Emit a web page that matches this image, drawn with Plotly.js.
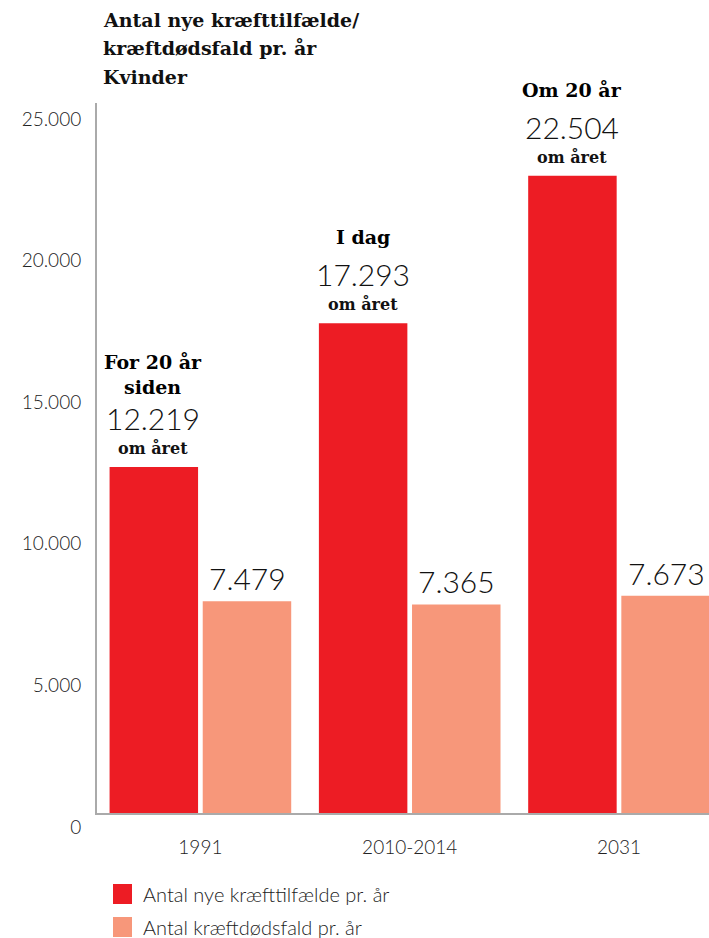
<!DOCTYPE html>
<html><head><meta charset="utf-8">
<script src="https://cdn.plot.ly/plotly-3.0.1.min.js"></script>
<style>html,body{margin:0;padding:0;background:#fff}#chart{width:709px;height:938px}</style>
</head><body><div id="chart"></div>
<script>
const categories = ["1991", "2010-2014", "2031"];
const newCases = [12219, 17293, 22504];
const deaths = [7479, 7365, 7673];
const headlines = ["For 20 år<br>siden", "I dag", "Om 20 år"];
const titleLines = ["Antal nye kræfttilfælde/", "kræftdødsfald pr. år", "Kvinder"];
const seriesNames = ["Antal nye kræfttilfælde pr. år", "Antal kræftdødsfald pr. år"];
const yTicks = [0, 5000, 10000, 15000, 20000, 25000];
const yTickText = ["0", "5.000", "10.000", "15.000", "20.000", "25.000"];
const fmtNum = v => String(v).replace(/\B(?=(\d{3})+(?!\d))/g, ".");

const RED = "#ED1C24", SALMON = "#F7977A";
const COLORS = [RED, SALMON];
const serif = "DejaVu Serif, serif";
const light = "Lato, Open Sans, sans-serif";

// plot area geometry (pixels)
const W = 709, H = 938, L = 97, T = 103, B = 125;
const PW = W - L, PH = H - T - B;
const px2x = px => (px - L) / PW;
const px2y = py => (H - B - py) / PH;

const traces = [
  {type: "bar", x: categories, y: newCases, name: seriesNames[0], marker: {color: RED}, hoverinfo: "none", showlegend: false},
  {type: "bar", x: categories, y: deaths, name: seriesNames[1], marker: {color: SALMON}, hoverinfo: "none", showlegend: false}
];

const ann = [];
categories.forEach((c, i) => {
  ann.push({x: i, y: newCases[i], xref: "x", yref: "y", xshift: -47, yshift: i === 0 ? 92 : 86, yanchor: "middle",
    showarrow: false, text: "<b>" + headlines[i] + "</b>", font: {family: serif, size: 19, color: "#000"}});
  ann.push({x: i, y: newCases[i], xref: "x", yref: "y", xshift: -47, yshift: 49, yanchor: "middle",
    showarrow: false, text: fmtNum(newCases[i]), font: {family: light, size: 30, color: "#111", weight: 300}});
  ann.push({x: i, y: newCases[i], xref: "x", yref: "y", xshift: -47, yshift: 19, yanchor: "middle",
    showarrow: false, text: "<b>om året</b>", font: {family: serif, size: 16, color: "#111"}});
  ann.push({x: i, y: deaths[i], xref: "x", yref: "y", xshift: 47, yshift: 23, yanchor: "middle",
    showarrow: false, text: fmtNum(deaths[i]), font: {family: light, size: 30, color: "#111", weight: 300}});
});

// title lines
const titleY = [20, 48, 77];
titleLines.forEach((t, i) => {
  ann.push({x: px2x(101), y: px2y(titleY[i]), xref: "paper", yref: "paper", xanchor: "left", yanchor: "middle",
    showarrow: false, text: "<b>" + t + "</b>", font: {family: serif, size: 19, color: "#111"}});
});

// legend (drawn manually to match the large swatches)
const shapes = [];
const legY = [894, 927];
seriesNames.forEach((n, i) => {
  shapes.push({type: "rect", xref: "paper", yref: "paper", x0: px2x(113), x1: px2x(132),
    y0: px2y(legY[i] - 10), y1: px2y(legY[i] + 10), fillcolor: COLORS[i], line: {width: 0}});
  ann.push({x: px2x(141), y: px2y(legY[i]), xref: "paper", yref: "paper", xanchor: "left", yanchor: "middle",
    showarrow: false, text: n, font: {family: light, size: 20, color: "#222", weight: 300}});
});

const layout = {
  width: W, height: H,
  margin: {l: L, r: 0, t: T, b: B, autoexpand: false},
  paper_bgcolor: "#fff", plot_bgcolor: "#fff",
  barmode: "group", bargap: 0.11, bargroupgap: 0.05,
  xaxis: {type: "category", range: [-0.494, 2.43], showline: true, linecolor: "#aaa", linewidth: 2,
    ticks: "", showgrid: false, zeroline: false, ticklabelstandoff: 16, automargin: false,
    tickfont: {family: light, size: 19, color: "#222", weight: 300}},
  yaxis: {range: [0, 25070], showline: true, linecolor: "#aaa", linewidth: 2, showgrid: false, zeroline: false,
    tickvals: yTicks, ticktext: yTickText, ticks: "", ticklabelshift: 14, ticklabelstandoff: 10, automargin: false,
    tickfont: {family: light, size: 19, color: "#222", weight: 300}},
  showlegend: false,
  annotations: ann,
  shapes: shapes
};

Plotly.newPlot("chart", traces, layout, {displayModeBar: false, staticPlot: true});
</script></body></html>
